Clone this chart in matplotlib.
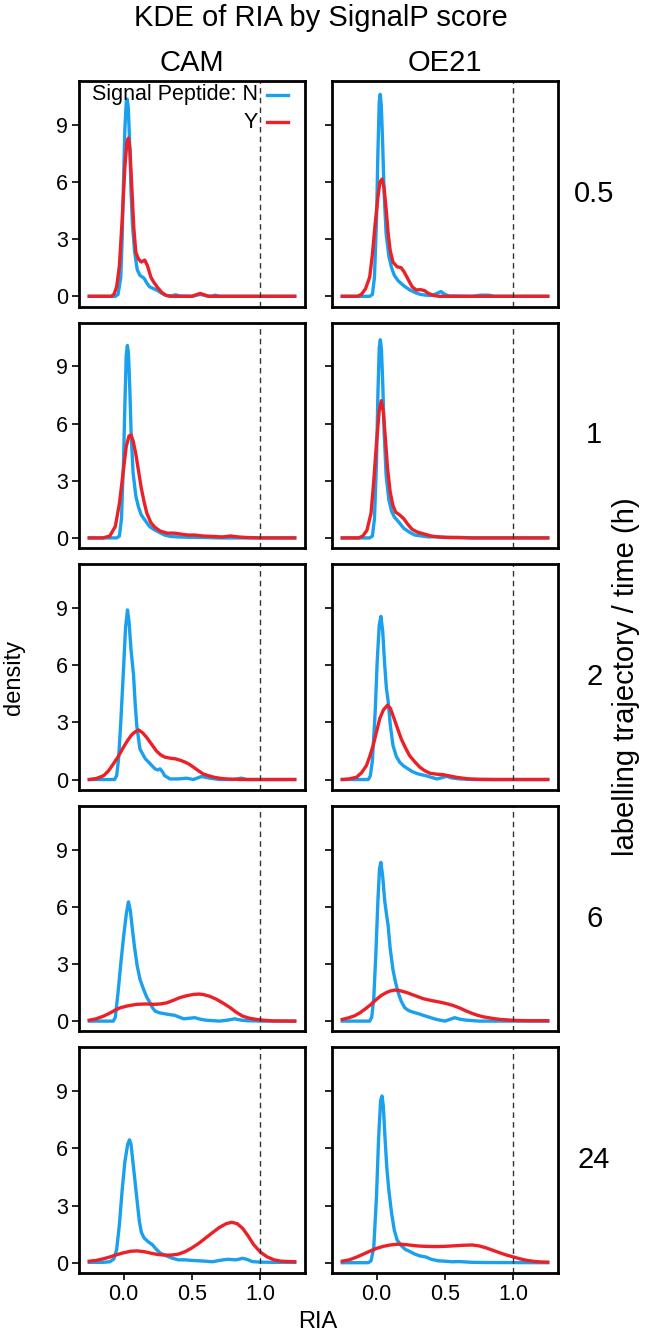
import matplotlib
matplotlib.use("Agg")
import matplotlib.pyplot as plt

plt.rcParams['font.family'] = ['Liberation Sans', 'DejaVu Sans']

# --- data (RIA, density) ---
times = ["0.5", "1", "2", "6", "24"]
strains = ["CAM", "OE21"]
blue = "#1AA0EC"
red = "#EC2027"

cam_05_n = [(-0.25,0),(-0.06,0),(-0.04,0.1),(-0.02,1.0),(-0.01,3.0),(0.0,6.0),(0.01,8.8),(0.02,10.2),(0.027,10.35),(0.035,9.9),(0.045,8.0),(0.055,5.5),(0.065,3.8),(0.08,2.4),(0.1,1.4),(0.12,1.1),(0.15,0.95),(0.17,0.7),(0.19,0.5),(0.22,0.4),(0.25,0.3),(0.28,0.15),(0.31,0.05),(0.35,0.02),(0.38,0.08),(0.41,0.02),(0.5,0),(0.56,0.1),(0.6,0.03),(0.64,0.0),(0.67,0.06),(0.7,0),(1.25,0)]
cam_05_y = [(-0.25,0),(-0.09,0),(-0.07,0.1),(-0.05,0.5),(-0.03,1.6),(-0.01,4.0),(0.01,6.8),(0.025,8.1),(0.036,8.3),(0.047,7.7),(0.06,5.8),(0.075,3.6),(0.09,2.3),(0.11,1.95),(0.13,1.8),(0.155,1.9),(0.175,1.6),(0.2,1.0),(0.22,0.75),(0.25,0.45),(0.28,0.2),(0.31,0.05),(0.34,0),(0.5,0),(0.53,0.08),(0.56,0.15),(0.59,0.08),(0.62,0),(1.25,0)]
oe_05_n = [(-0.25,0),(-0.05,0),(-0.03,0.1),(-0.015,1.0),(0.0,4.0),(0.01,7.5),(0.02,10.2),(0.027,10.6),(0.035,10.0),(0.045,8.0),(0.055,5.5),(0.07,3.3),(0.09,2.1),(0.11,1.5),(0.13,1.1),(0.16,0.8),(0.2,0.55),(0.24,0.35),(0.28,0.2),(0.32,0.1),(0.36,0.06),(0.4,0.04),(0.44,0.15),(0.47,0.25),(0.5,0.1),(0.53,0.02),(0.7,0),(0.76,0.06),(0.82,0.06),(0.86,0),(1.25,0)]
oe_05_y = [(-0.25,0),(-0.14,0),(-0.11,0.1),(-0.08,0.4),(-0.05,1.0),(-0.03,2.2),(-0.01,3.8),(0.01,5.2),(0.025,6.0),(0.04,6.15),(0.055,5.7),(0.07,4.6),(0.085,3.3),(0.1,2.4),(0.12,1.8),(0.15,1.55),(0.18,1.5),(0.2,1.3),(0.23,0.9),(0.26,0.5),(0.29,0.33),(0.32,0.35),(0.35,0.3),(0.38,0.15),(0.42,0.04),(0.46,0),(1.25,0)]

cam_1_n = [(-0.25,0),(-0.05,0),(-0.03,0.1),(-0.015,1.0),(0.0,4.0),(0.01,7.0),(0.02,9.6),(0.028,10.1),(0.036,9.7),(0.046,7.8),(0.056,5.4),(0.07,3.4),(0.09,2.2),(0.11,1.6),(0.13,1.2),(0.16,0.9),(0.19,0.6),(0.22,0.45),(0.26,0.3),(0.3,0.15),(0.34,0.08),(0.4,0.05),(0.5,0.03),(0.6,0.02),(0.7,0),(1.25,0)]
cam_1_y = [(-0.25,0),(-0.15,0),(-0.1,0.1),(-0.06,0.6),(-0.03,1.8),(0.0,3.6),(0.02,4.8),(0.04,5.35),(0.055,5.4),(0.07,5.1),(0.09,4.4),(0.11,3.5),(0.13,2.6),(0.15,1.9),(0.17,1.3),(0.2,0.8),(0.23,0.55),(0.27,0.35),(0.32,0.25),(0.37,0.25),(0.42,0.2),(0.47,0.15),(0.52,0.15),(0.58,0.1),(0.65,0.08),(0.72,0.05),(0.78,0.1),(0.84,0.05),(0.9,0.02),(1.0,0),(1.25,0)]
oe_1_n = [(-0.25,0),(-0.05,0),(-0.03,0.1),(-0.015,1.0),(0.0,4.0),(0.01,7.5),(0.02,10.0),(0.028,10.4),(0.036,9.9),(0.046,8.0),(0.056,5.5),(0.07,3.3),(0.09,2.0),(0.11,1.4),(0.13,1.1),(0.16,0.85),(0.2,0.5),(0.24,0.3),(0.28,0.15),(0.33,0.1),(0.38,0.05),(0.44,0.06),(0.5,0.02),(0.6,0.03),(0.7,0),(1.25,0)]
oe_1_y = [(-0.25,0),(-0.13,0),(-0.1,0.1),(-0.07,0.4),(-0.04,1.3),(-0.02,3.0),(0.0,5.0),(0.02,6.7),(0.035,7.2),(0.05,6.6),(0.065,5.2),(0.08,3.7),(0.1,2.4),(0.12,1.7),(0.14,1.35),(0.17,1.2),(0.2,1.0),(0.23,0.7),(0.26,0.45),(0.3,0.3),(0.35,0.2),(0.4,0.1),(0.45,0.05),(0.55,0.02),(0.7,0),(1.25,0)]

cam_2_n = [(-0.25,0),(-0.065,0),(-0.05,0.2),(-0.036,1.1),(-0.02,3.0),(0.0,5.8),(0.015,8.0),(0.029,8.9),(0.04,8.3),(0.055,6.8),(0.073,5.5),(0.085,4.0),(0.097,2.8),(0.12,1.6),(0.158,1.1),(0.194,0.83),(0.23,0.56),(0.25,0.5),(0.267,0.56),(0.285,0.4),(0.3,0.2),(0.34,0.03),(0.4,0.03),(0.46,0.07),(0.51,0),(0.57,0.16),(0.63,0.07),(0.7,0),(0.8,0),(0.86,0.07),(0.9,0),(1.25,0)]
cam_2_y = [(-0.25,0),(-0.2,0.05),(-0.146,0.2),(-0.11,0.45),(-0.073,0.83),(-0.035,1.25),(0.0,1.7),(0.03,2.05),(0.06,2.35),(0.085,2.5),(0.11,2.6),(0.14,2.45),(0.17,2.2),(0.2,1.9),(0.24,1.5),(0.27,1.3),(0.3,1.18),(0.34,1.12),(0.376,1.09),(0.41,1.02),(0.45,0.91),(0.48,0.8),(0.51,0.65),(0.545,0.47),(0.58,0.3),(0.62,0.2),(0.66,0.12),(0.7,0.07),(0.75,0.03),(0.85,0),(1.25,0)]
oe_2_n = [(-0.25,0),(-0.06,0),(-0.045,0.2),(-0.03,1.0),(-0.01,3.5),(0.005,6.2),(0.02,8.1),(0.032,8.56),(0.045,7.8),(0.06,6.0),(0.072,4.8),(0.085,4.1),(0.1,2.9),(0.12,1.8),(0.145,1.2),(0.17,0.9),(0.2,0.7),(0.23,0.56),(0.26,0.42),(0.3,0.3),(0.36,0.2),(0.44,0.03),(0.48,0.1),(0.51,0.17),(0.55,0.08),(0.61,0.03),(0.7,0),(1.25,0)]
oe_2_y = [(-0.25,0),(-0.2,0.03),(-0.146,0.12),(-0.11,0.35),(-0.073,0.74),(-0.05,1.2),(-0.024,1.8),(0.0,2.5),(0.024,3.2),(0.05,3.65),(0.08,3.9),(0.1,3.75),(0.12,3.37),(0.15,2.75),(0.18,2.14),(0.21,1.68),(0.24,1.27),(0.28,0.92),(0.316,0.65),(0.35,0.47),(0.39,0.33),(0.44,0.28),(0.49,0.25),(0.54,0.18),(0.58,0.12),(0.63,0.07),(0.68,0.03),(0.75,0.01),(0.85,0),(1.25,0)]

cam_6_n = [(-0.25,0),(-0.075,0),(-0.06,0.2),(-0.04,1.5),(-0.02,3.0),(0.0,4.4),(0.02,5.6),(0.036,6.26),(0.05,5.8),(0.062,5.0),(0.08,3.9),(0.1,2.9),(0.12,2.2),(0.146,1.67),(0.17,1.25),(0.194,0.96),(0.21,0.72),(0.23,0.53),(0.26,0.44),(0.29,0.4),(0.33,0.35),(0.376,0.3),(0.41,0.2),(0.44,0.12),(0.48,0.15),(0.52,0.18),(0.56,0.1),(0.6,0.05),(0.7,0),(0.76,0.05),(0.81,0.12),(0.86,0.05),(0.9,0.02),(1.0,0),(1.25,0)]
cam_6_y = [(-0.25,0.05),(-0.2,0.12),(-0.146,0.26),(-0.1,0.42),(-0.06,0.58),(-0.024,0.7),(0.03,0.8),(0.097,0.88),(0.16,0.9),(0.22,0.88),(0.27,0.9),(0.316,0.96),(0.36,1.08),(0.41,1.23),(0.46,1.33),(0.51,1.4),(0.55,1.42),(0.58,1.4),(0.63,1.3),(0.68,1.14),(0.73,0.93),(0.78,0.7),(0.82,0.48),(0.87,0.26),(0.92,0.15),(0.97,0.09),(1.03,0.04),(1.09,0.01),(1.25,0)]
oe_6_n = [(-0.25,0),(-0.05,0),(-0.035,0.2),(-0.02,1.2),(-0.005,3.5),(0.01,6.3),(0.022,8.0),(0.032,8.33),(0.045,7.6),(0.06,6.3),(0.073,5.6),(0.085,5.0),(0.1,3.8),(0.12,2.7),(0.14,2.0),(0.158,1.5),(0.18,1.05),(0.206,0.7),(0.235,0.55),(0.267,0.47),(0.31,0.38),(0.36,0.26),(0.4,0.17),(0.437,0.09),(0.5,0),(0.54,0.1),(0.57,0.18),(0.61,0.1),(0.655,0.05),(0.75,0),(1.25,0)]
oe_6_y = [(-0.25,0.09),(-0.2,0.18),(-0.16,0.28),(-0.12,0.44),(-0.08,0.65),(-0.04,0.88),(0.0,1.14),(0.035,1.35),(0.073,1.5),(0.1,1.58),(0.133,1.63),(0.17,1.6),(0.22,1.5),(0.28,1.34),(0.34,1.18),(0.4,1.08),(0.46,1.0),(0.51,0.92),(0.56,0.82),(0.61,0.68),(0.655,0.53),(0.7,0.4),(0.74,0.3),(0.777,0.23),(0.84,0.15),(0.9,0.09),(1.0,0.04),(1.1,0.02),(1.25,0.02)]

cam_24_n = [(-0.25,0.02),(-0.15,0.02),(-0.1,0.05),(-0.07,0.2),(-0.05,0.7),(-0.03,2.0),(-0.01,3.8),(0.01,5.3),(0.03,6.2),(0.044,6.45),(0.055,6.2),(0.07,5.2),(0.085,4.2),(0.1,3.2),(0.115,2.2),(0.13,1.6),(0.15,1.3),(0.18,1.1),(0.21,0.95),(0.24,0.7),(0.27,0.5),(0.3,0.4),(0.35,0.25),(0.4,0.15),(0.45,0.15),(0.5,0.12),(0.55,0.1),(0.6,0.08),(0.65,0.05),(0.7,0.12),(0.76,0.18),(0.82,0.15),(0.87,0.23),(0.9,0.18),(0.94,0.06),(1.0,0.03),(1.1,0.02),(1.25,0.02)]
cam_24_y = [(-0.25,0.08),(-0.2,0.12),(-0.15,0.2),(-0.1,0.3),(-0.05,0.42),(0.0,0.52),(0.05,0.6),(0.1,0.62),(0.15,0.58),(0.2,0.5),(0.25,0.43),(0.3,0.4),(0.35,0.4),(0.4,0.45),(0.45,0.58),(0.5,0.78),(0.55,1.02),(0.6,1.3),(0.65,1.58),(0.7,1.85),(0.75,2.05),(0.79,2.12),(0.83,2.05),(0.87,1.8),(0.91,1.4),(0.95,0.95),(1.0,0.55),(1.05,0.3),(1.1,0.15),(1.15,0.08),(1.25,0.05)]
oe_24_n = [(-0.25,0),(-0.06,0),(-0.04,0.1),(-0.02,0.8),(0.0,3.5),(0.015,6.5),(0.03,8.5),(0.04,8.75),(0.05,8.2),(0.06,6.8),(0.075,5.0),(0.09,3.8),(0.11,2.6),(0.13,1.7),(0.15,1.2),(0.18,0.9),(0.21,0.7),(0.24,0.6),(0.28,0.45),(0.32,0.35),(0.36,0.3),(0.4,0.18),(0.45,0.1),(0.5,0.08),(0.55,0.05),(0.6,0.06),(0.65,0.04),(0.7,0.02),(0.8,0.01),(1.25,0)]
oe_24_y = [(-0.25,0.08),(-0.2,0.15),(-0.15,0.28),(-0.1,0.44),(-0.05,0.6),(0.0,0.75),(0.05,0.86),(0.1,0.93),(0.15,0.97),(0.2,0.96),(0.25,0.92),(0.3,0.88),(0.35,0.86),(0.4,0.85),(0.45,0.85),(0.5,0.86),(0.55,0.88),(0.6,0.9),(0.65,0.92),(0.7,0.93),(0.75,0.88),(0.8,0.78),(0.85,0.65),(0.9,0.52),(0.95,0.4),(1.0,0.3),(1.05,0.2),(1.1,0.12),(1.15,0.07),(1.2,0.04),(1.25,0.03)]

panels = [
    [(cam_05_n, cam_05_y), (oe_05_n, oe_05_y)],
    [(cam_1_n, cam_1_y), (oe_1_n, oe_1_y)],
    [(cam_2_n, cam_2_y), (oe_2_n, oe_2_y)],
    [(cam_6_n, cam_6_y), (oe_6_n, oe_6_y)],
    [(cam_24_n, cam_24_y), (oe_24_n, oe_24_y)],
]

W, H = 650, 1336
fig = plt.figure(figsize=(W / 100, H / 100), dpi=100)

lefts = [79, 332]
pw, ph = 226, 225.6
top0, step = 81, 241.6

for r, row in enumerate(panels):
    for c, (n_pts, y_pts) in enumerate(row):
        top = top0 + r * step
        ax = fig.add_axes([lefts[c] / W, 1 - (top + ph) / H, pw / W, ph / H])
        ax.plot([p[0] for p in n_pts], [p[1] for p in n_pts], color=blue, lw=2.4)
        ax.plot([p[0] for p in y_pts], [p[1] for p in y_pts], color=red, lw=2.4)
        ax.axvline(1.0, color="#333333", lw=1, ls=(0, (4, 3)))
        ax.set_xlim(-0.325, 1.325)
        ax.set_ylim(-0.54, 11.3)
        ax.set_yticks([0, 3, 6, 9])
        ax.set_xticks([0.0, 0.5, 1.0])
        ax.set_xticklabels(["0.0", "0.5", "1.0"])
        for s in ax.spines.values():
            s.set_linewidth(2)
            s.set_color("black")
        ax.tick_params(axis="y", direction="out", length=5, width=1.2, labelsize=15.5, pad=3)
        ax.tick_params(axis="x", direction="out", length=5, width=1.2, labelsize=15.5, pad=3)
        if c == 1:
            ax.tick_params(axis="y", labelleft=False)
        if r < len(panels) - 1:
            ax.tick_params(axis="x", bottom=False, labelbottom=False)
        if r == 0:
            ax.set_title(strains[c], fontsize=21, pad=7)
        if c == 1:
            ax.text(1.16, 0.5, times[r], transform=ax.transAxes, fontsize=21,
                    ha="center", va="center")
        if r == 0 and c == 0:
            # legend drawn like ggplot's inline legend
            ax.text(0.79, 0.938, "Signal Peptide: N", transform=ax.transAxes,
                    fontsize=15.5, ha="right", va="center")
            ax.text(0.79, 0.818, "Y", transform=ax.transAxes,
                    fontsize=15.5, ha="right", va="center")
            ax.plot([0.832, 0.925], [0.938, 0.938], transform=ax.transAxes, color=blue, lw=2.4)
            ax.plot([0.832, 0.925], [0.818, 0.818], transform=ax.transAxes, color=red, lw=2.4)

fig.text(321 / W, 1 - 18 / H, "KDE of RIA by SignalP score", fontsize=21, ha="center", va="center")
fig.text(14 / W, 1 - 677 / H, "density", fontsize=17, rotation=90, ha="center", va="center")
fig.text(318 / W, 1 - 1322 / H, "RIA", fontsize=17, ha="center", va="center")
fig.text(626 / W, 1 - 677 / H, "labelling trajectory / time (h)", fontsize=21, rotation=90,
         ha="center", va="center")

fig.savefig("out.png", dpi=100)
